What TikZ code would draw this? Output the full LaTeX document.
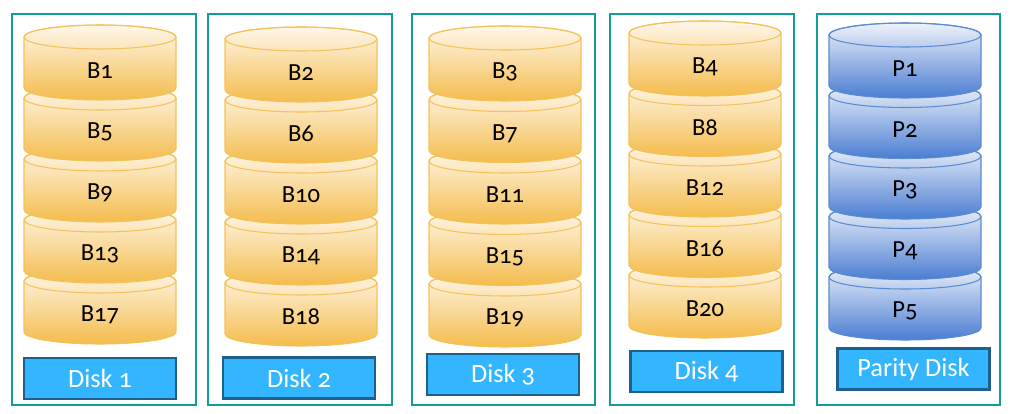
\documentclass[tikz,border=0pt]{standalone}
\usepackage{fontspec}
\setmainfont[Numbers=OldStyle]{Carlito}
\definecolor{panelline}{HTML}{129E96}
\definecolor{labelfill}{HTML}{33B6FF}
\definecolor{labelline}{HTML}{1F5F8B}
\definecolor{goldtop}{HTML}{FFF7EA}
\definecolor{goldbot}{HTML}{F4BC4C}
\definecolor{goldline}{HTML}{F4C25A}
\definecolor{bluetop}{HTML}{EEF2FA}
\definecolor{bluebot}{HTML}{4A7DD2}
\definecolor{blueline}{HTML}{5B8BD0}
\tikzset{
  panel/.style={draw=panelline,line width=1.2pt},
  disklabel/.style={draw=labelline,fill=labelfill,line width=1.2pt,text=white,
    minimum width=3.04cm,minimum height=0.82cm,inner sep=0pt,font=\fontsize{15}{17}\selectfont},
  datacyl/.style={top color=goldtop,bottom color=goldbot,draw=goldline,line width=0.6pt},
  paritycyl/.style={top color=bluetop,bottom color=bluebot,draw=blueline,line width=0.6pt},
  blocktext/.style={font=\fontsize{14}{16}\selectfont}
}
\begin{document}
\begin{tikzpicture}[x=0.02cm,y=0.02cm]
\useasboundingbox (0,0) rectangle (1012,-413);
% panels
\draw[panel] (12,-14) rectangle (196,-405);
\draw[panel] (208,-14) rectangle (392,-405);
\draw[panel] (412,-14) rectangle (595,-405);
\draw[panel] (610,-14) rectangle (794,-405);
\draw[panel] (817,-14) rectangle (1000,-405);
% data disks, bottom row drawn first
\foreach \cx/\cy/\dy/\d in {100/37/61/1,301/39/61/2,505/38/61.5/3,705/33/60.5/4}{
  \foreach \r in {5,4,...,1}{
    \pgfmathsetmacro\yc{-\cy-(\r-1)*\dy}
    \pgfmathtruncatemacro\b{4*(\r-1)+\d}
    \shade[datacyl] (\cx-76,\yc) -- (\cx-76,\yc-51)
      arc[start angle=180,end angle=360,x radius=76,y radius=12]
      -- (\cx+76,\yc) arc[start angle=0,end angle=180,x radius=76,y radius=12] -- cycle;
    \draw[goldline,line width=0.6pt] (\cx,\yc) ellipse[x radius=76,y radius=12];
    \node[blocktext] (b\b) at (\cx,\yc-34) {B\b};
  }
}
% parity disk
\foreach \r in {5,4,...,1}{
  \pgfmathsetmacro\yc{-35-(\r-1)*60.5}
  \shade[paritycyl] (905-76,\yc) -- (905-76,\yc-51)
    arc[start angle=180,end angle=360,x radius=76,y radius=12]
    -- (905+76,\yc) arc[start angle=0,end angle=180,x radius=76,y radius=12] -- cycle;
  \draw[blueline,line width=0.6pt] (905,\yc) ellipse[x radius=76,y radius=12];
  \node[blocktext] (p\r) at (905,\yc-34) {P\r};
}
% disk names
\node[disklabel] (disk1) at (100,-378.5) {Disk 1};
\node[disklabel] (disk2) at (299,-378) {Disk 2};
\node[disklabel] (disk3) at (503,-374.5) {Disk 3};
\node[disklabel] (disk4) at (706.5,-371.5) {Disk 4};
\node[disklabel] (disk5) at (913.5,-369) {Parity Disk};
\end{tikzpicture}
\end{document}
